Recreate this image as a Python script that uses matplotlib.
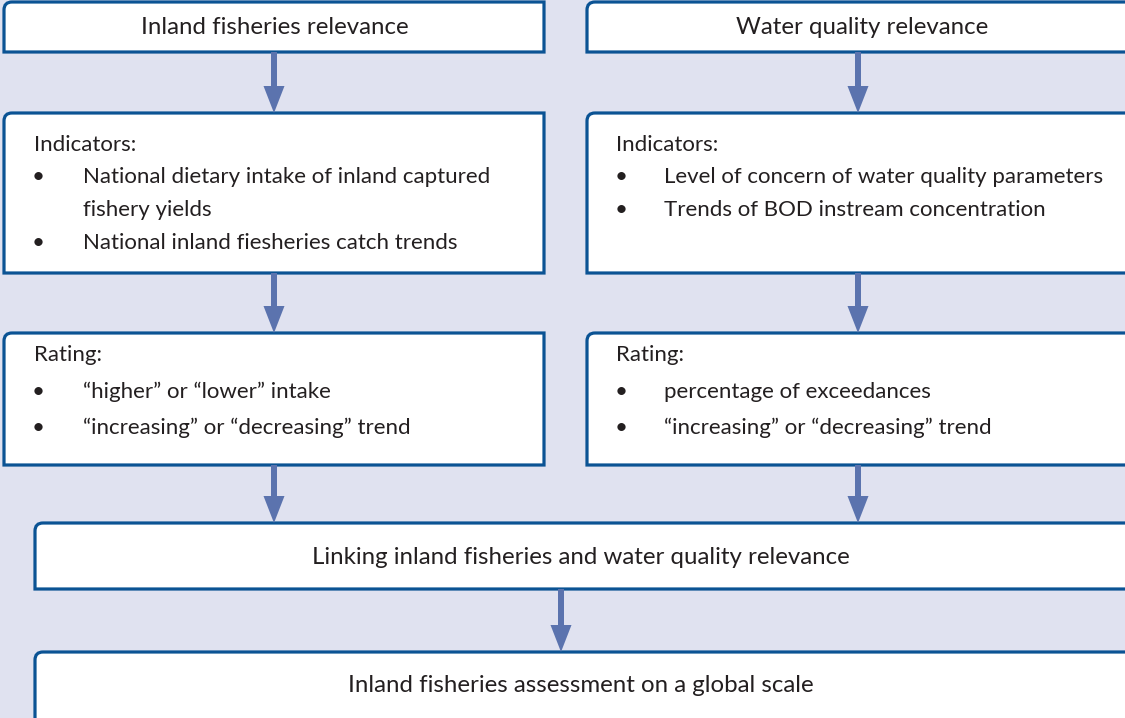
#!/usr/bin/env python3
"""Flowchart: inland fisheries and water quality relevance."""

import matplotlib
matplotlib.use("Agg")
import matplotlib.pyplot as plt
from matplotlib.patches import PathPatch, FancyArrow
from matplotlib.path import Path

plt.rcParams["font.family"] = ["Lato", "DejaVu Sans"]

BG = "#e0e2f0"
EDGE = "#0b5394"
ARROW = "#5b73ae"
TEXT = "#231f20"
FS_TITLE = 17.3
FS_BODY = 16

# box contents
top_titles = ["Inland fisheries relevance", "Water quality relevance"]
ind_heading = "Indicators:"
ind_left = ["National dietary intake of inland captured\nfishery yields",
            "National inland fiesheries catch trends"]
ind_right = ["Level of concern of water quality parameters",
             "Trends of BOD instream concentration"]
rate_heading = "Rating:"
rate_left = ["\u201chigher\u201d or \u201clower\u201d intake",
             "\u201cincreasing\u201d or \u201cdecreasing\u201d trend"]
rate_right = ["percentage of exceedances",
              "\u201cincreasing\u201d or \u201cdecreasing\u201d trend"]
link_text = "Linking inland fisheries and water quality relevance"
final_text = "Inland fisheries assessment on a global scale"

# layout in pixels (x0, y0, x1, y1), y downwards
boxes = {
    "top_l": (4, 2, 544, 52), "top_r": (587, 2, 1140, 52),
    "ind_l": (4, 113, 544, 273), "ind_r": (587, 113, 1140, 273),
    "rat_l": (4, 333, 544, 465), "rat_r": (587, 333, 1140, 465),
    "link": (35, 523, 1140, 589), "final": (35, 652, 1140, 730),
}
arrows = [(274, 52, 113), (858, 52, 113), (274, 273, 333), (858, 273, 333),
          (274, 465, 523), (858, 465, 523), (561, 589, 652)]


def box_path(x0, y0, x1, y1, r=8):
    # only the top-left corner is rounded
    verts = [(x0, y1), (x0, y0 + r), (x0, y0), (x0 + r, y0),
             (x1, y0), (x1, y1), (x0, y1)]
    codes = [Path.MOVETO, Path.LINETO, Path.CURVE3, Path.CURVE3,
             Path.LINETO, Path.LINETO, Path.CLOSEPOLY]
    return Path(verts, codes)


fig = plt.figure(figsize=(11.25, 7.18), dpi=100)
fig.patch.set_facecolor(BG)
ax = fig.add_axes([0, 0, 1, 1])
ax.set_xlim(0, 1125)
ax.set_ylim(718, 0)
ax.axis("off")

for x0, y0, x1, y1 in boxes.values():
    ax.add_patch(PathPatch(box_path(x0, y0, x1, y1), facecolor="white",
                           edgecolor=EDGE, linewidth=2.3, zorder=2))

for x, ya, yb in arrows:
    ax.add_patch(FancyArrow(x, ya, 0, yb - ya, width=6, head_width=21,
                            head_length=27, length_includes_head=True,
                            color=ARROW, linewidth=0, zorder=3))

kw = dict(color=TEXT, va="center", zorder=4)
ax.text(275, 27, top_titles[0], ha="center", fontsize=FS_TITLE, **kw)
ax.text(862, 27, top_titles[1], ha="center", fontsize=FS_TITLE, **kw)


def bullet_block(heading, xh, xb, xt, yh, first, lines, step=33):
    ax.text(xh, yh, heading, ha="left", fontsize=FS_BODY, **kw)
    y = first
    for line in lines:
        ax.text(xb, y, "\u2022", ha="center", fontsize=FS_BODY, **kw)
        for part in line.split("\n"):
            ax.text(xt, y, part, ha="left", fontsize=FS_BODY, **kw)
            y += step


bullet_block(ind_heading, 34, 38, 83, 145, 177, ind_left)
bullet_block(ind_heading, 616, 621, 664, 145, 177, ind_right)
bullet_block(rate_heading, 34, 38, 83, 355, 392, rate_left, step=36)
bullet_block(rate_heading, 616, 621, 664, 355, 392, rate_right, step=36)

ax.text(581, 557, link_text, ha="center", fontsize=FS_TITLE, **kw)
ax.text(581, 686, final_text, ha="center", fontsize=FS_TITLE, **kw)

fig.savefig("out.png", dpi=100, facecolor=BG)
